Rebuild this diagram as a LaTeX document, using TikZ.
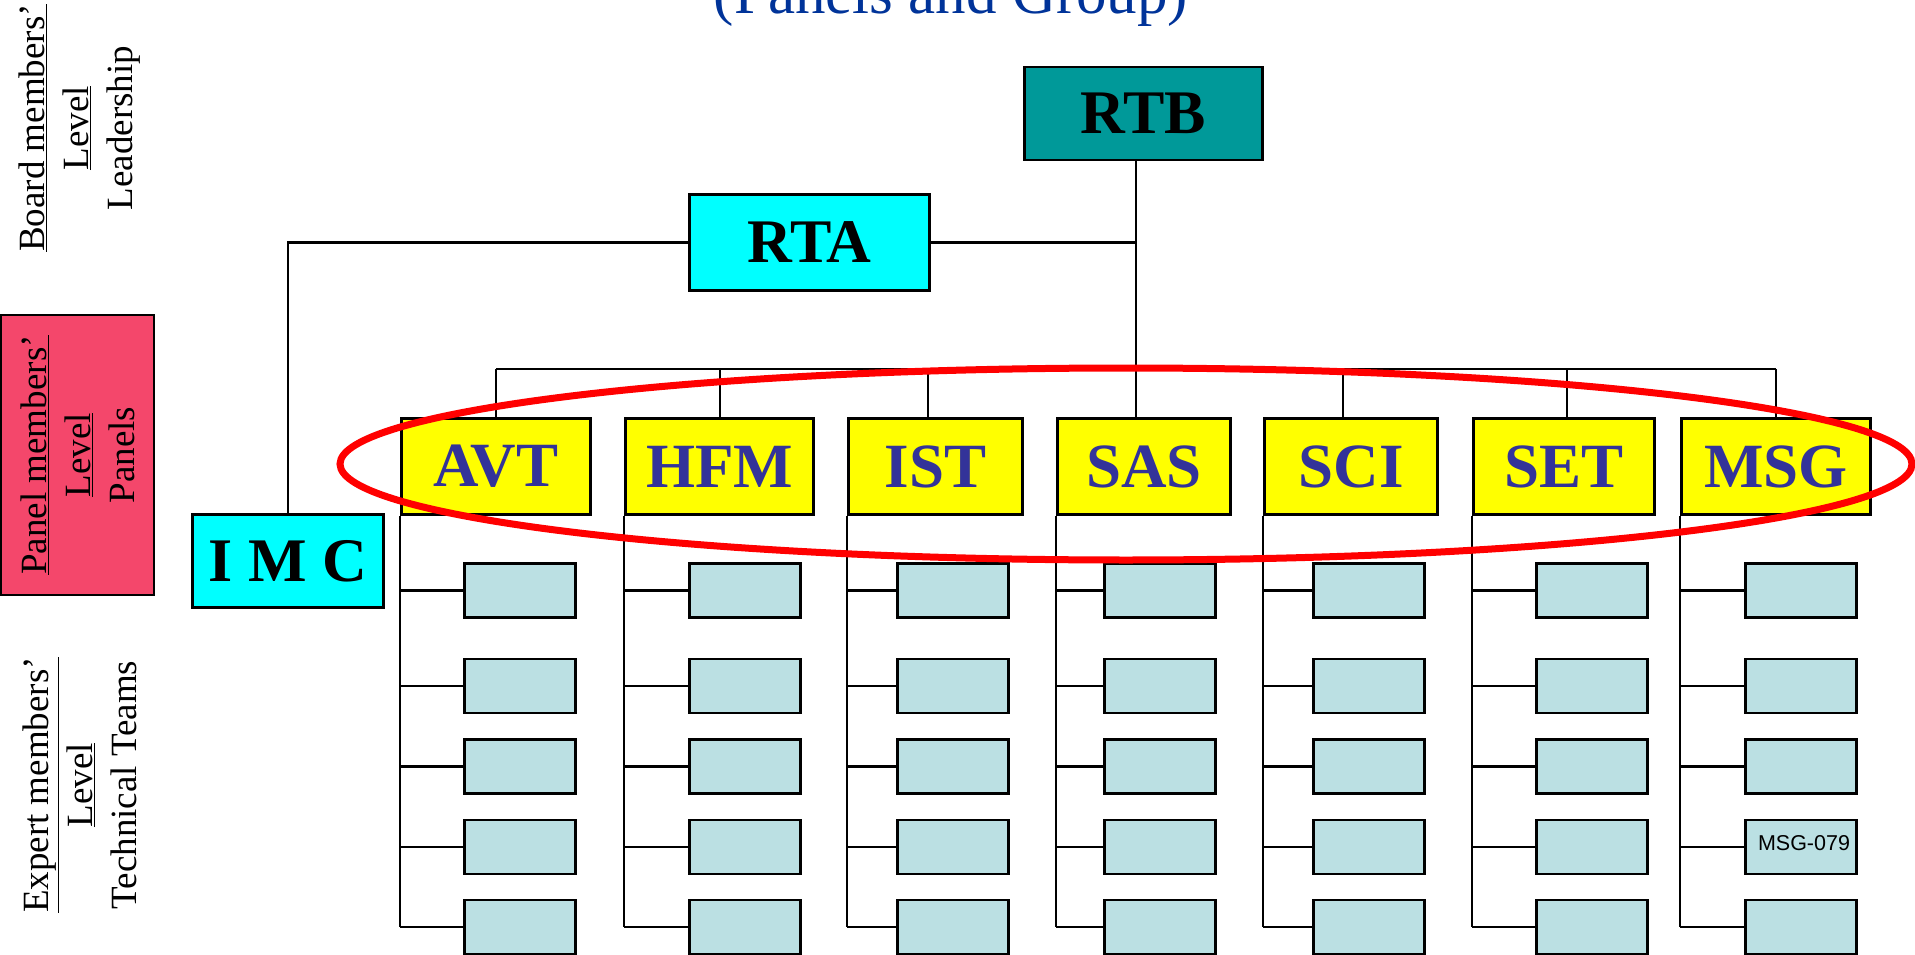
\documentclass[tikz,border=0pt]{standalone}
\usepackage{fontspec}
\setmainfont{Liberation Serif}
\newfontfamily\arialfont{Liberation Sans}
\usepackage{tikz}
\usetikzlibrary{calc,positioning}

\definecolor{rtbteal}{HTML}{009999}
\definecolor{rtacyan}{HTML}{00FFFF}
\definecolor{panelyellow}{HTML}{FFFF00}
\definecolor{panelblue}{HTML}{333399}
\definecolor{teamblue}{HTML}{BBE0E3}
\definecolor{levelpink}{HTML}{F4476B}
\definecolor{titleblue}{HTML}{003399}

\begin{document}
\begin{tikzpicture}[
    x = 1pt, y = -1pt,
    link/.style = {line width = 2.5pt, black},
    box/.style = {
      draw,
      rectangle,
      line width = 2.8pt,
      inner sep = 0pt},
    topbox/.style = {
      box,
      font = \fontsize{62}{62}\selectfont\bfseries},
    panel/.style = {
      box,
      fill = panelyellow,
      minimum height = 96pt,
      text = panelblue,
      font = \fontsize{63}{63}\selectfont\bfseries},
    team/.style = {
      box,
      fill = teamblue,
      minimum width = 111pt,
      minimum height = 54pt},
    level/.style = {
      rotate = 90,
      align = center,
      inner sep = 0pt,
      font = \fontsize{37}{44}\selectfont}
    ]

  \useasboundingbox (0,0) rectangle (1915,955);
  \clip (0,0) rectangle (1915,955);

  % Title, cut at the top
  \node[anchor = base, text = titleblue, font = \fontsize{61}{61}\selectfont] (title) at (951,14) {(Panels and Group)};

  % Level labels on the left
  \node[level] (boardlvl) at (80,128) {\underline{Board members’}\\\underline{Level}\\Leadership};
  \node[level, draw, line width = 2pt, fill = levelpink, minimum width = 280pt, minimum height = 153pt] (panellvl) at (77.5,455) {\underline{Panel members’}\\\underline{Level}\\Panels};
  \node[level] (expertlvl) at (80,785) {\underline{Expert members’}\\\underline{Level}\\Technical Teams};

  % Board and panel heads
  \node[topbox, fill = rtbteal, minimum width = 238pt, minimum height = 93pt] (RTB) at (1143.5,113.5) {RTB};
  \node[topbox, fill = rtacyan, minimum width = 240pt, minimum height = 96pt] (RTA) at (809.5,242.5) {RTA};
  \node[topbox, fill = rtacyan, minimum width = 191pt, minimum height = 93pt] (IMC) at (288,561) {I M C};

  % Panels with their technical teams
  \foreach \name/\xl/\xr/\xd/\xt in {AVT/400/592/496/463, HFM/624/815/720/688, IST/847/1024/928/896, SAS/1056/1232/1136/1103, SCI/1263/1439/1343/1312, SET/1472/1656/1567/1535, MSG/1680/1872/1776/1744}{
    \pgfmathsetmacro{\w}{\xr-\xl-2.8}
    \pgfmathsetmacro{\xc}{(\xl+\xr)/2}
    \node[panel, minimum width = \w pt] (\name) at (\xc,466.5) {\name};
    \coordinate (\name-drop) at (\xd,369);
    \draw[link] (\name-drop) -- (\name-drop |- \name.north);
    \foreach \r/\ty in {1/590.5, 2/686, 3/766.5, 4/847, 5/927}{
      \node[team] (\name-\r) at (\xt+57,\ty) {};
      \draw[link] (\name.south west |- \name-\r.west) -- (\name-\r.west);
    }
    \draw[link] (\name.south west) -- (\name.south west |- \name-5.west);
  }

  \node[font = \arialfont\fontsize{21.5}{21.5}\selectfont, inner sep = 0pt] (msg079) at ($(MSG-4.center)+(3,-4)$) {MSG-079};

  % Connections
  \draw[link] (AVT-drop) -- (MSG-drop);
  \draw[link] (RTB.south -| SAS-drop) -- (SAS-drop);
  \draw[link] (RTA.east) -- (RTA.east -| SAS-drop);
  \coordinate (imcturn) at (IMC.north |- RTA.west);
  \draw[link] (RTA.west) -- (imcturn) -- (IMC.north);

  % Ring round the panels
  \draw[red, line width = 7pt] (1126,464) ellipse [x radius = 786, y radius = 96];

\end{tikzpicture}
\end{document}
